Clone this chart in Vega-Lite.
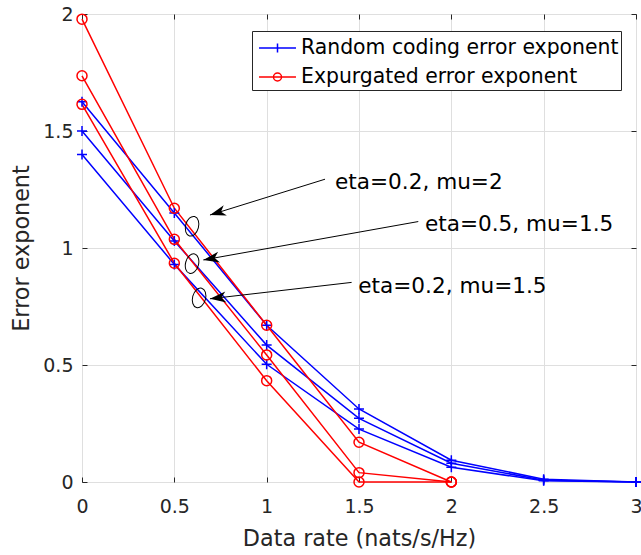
{
  "$schema": "https://vega.github.io/schema/vega-lite/v6.json",
  "width": 554,
  "height": 468,
  "autosize": "none",
  "padding": {"left": 82, "top": 14, "right": 5, "bottom": 73},
  "background": "white",
  "view": {"stroke": "#262626", "strokeWidth": 1},
  "config": {"font": "DejaVu Sans"},
  "datasets": {
    "series": [
      {"x": 0, "y": 1.625, "type": "Random coding error exponent", "group": "a"},
      {"x": 0.5, "y": 1.15, "type": "Random coding error exponent", "group": "a"},
      {"x": 1, "y": 0.67, "type": "Random coding error exponent", "group": "a"},
      {"x": 1.5, "y": 0.312, "type": "Random coding error exponent", "group": "a"},
      {"x": 2, "y": 0.093, "type": "Random coding error exponent", "group": "a"},
      {"x": 2.5, "y": 0.012, "type": "Random coding error exponent", "group": "a"},
      {"x": 3, "y": 0, "type": "Random coding error exponent", "group": "a"},
      {"x": 0, "y": 1.5, "type": "Random coding error exponent", "group": "b"},
      {"x": 0.5, "y": 1.03, "type": "Random coding error exponent", "group": "b"},
      {"x": 1, "y": 0.585, "type": "Random coding error exponent", "group": "b"},
      {"x": 1.5, "y": 0.272, "type": "Random coding error exponent", "group": "b"},
      {"x": 2, "y": 0.08, "type": "Random coding error exponent", "group": "b"},
      {"x": 2.5, "y": 0.008, "type": "Random coding error exponent", "group": "b"},
      {"x": 3, "y": 0, "type": "Random coding error exponent", "group": "b"},
      {"x": 0, "y": 1.4, "type": "Random coding error exponent", "group": "c"},
      {"x": 0.5, "y": 0.93, "type": "Random coding error exponent", "group": "c"},
      {"x": 1, "y": 0.503, "type": "Random coding error exponent", "group": "c"},
      {"x": 1.5, "y": 0.226, "type": "Random coding error exponent", "group": "c"},
      {"x": 2, "y": 0.063, "type": "Random coding error exponent", "group": "c"},
      {"x": 2.5, "y": 0.005, "type": "Random coding error exponent", "group": "c"},
      {"x": 3, "y": 0, "type": "Random coding error exponent", "group": "c"},
      {"x": 0, "y": 1.978, "type": "Expurgated error exponent", "group": "a"},
      {"x": 0.5, "y": 1.17, "type": "Expurgated error exponent", "group": "a"},
      {"x": 1, "y": 0.67, "type": "Expurgated error exponent", "group": "a"},
      {"x": 1.5, "y": 0.17, "type": "Expurgated error exponent", "group": "a"},
      {"x": 2, "y": 0, "type": "Expurgated error exponent", "group": "a"},
      {"x": 0, "y": 1.736, "type": "Expurgated error exponent", "group": "b"},
      {"x": 0.5, "y": 1.037, "type": "Expurgated error exponent", "group": "b"},
      {"x": 1, "y": 0.543, "type": "Expurgated error exponent", "group": "b"},
      {"x": 1.5, "y": 0.04, "type": "Expurgated error exponent", "group": "b"},
      {"x": 2, "y": 0, "type": "Expurgated error exponent", "group": "b"},
      {"x": 0, "y": 1.614, "type": "Expurgated error exponent", "group": "c"},
      {"x": 0.5, "y": 0.935, "type": "Expurgated error exponent", "group": "c"},
      {"x": 1, "y": 0.433, "type": "Expurgated error exponent", "group": "c"},
      {"x": 1.5, "y": 0, "type": "Expurgated error exponent", "group": "c"},
      {"x": 2, "y": 0, "type": "Expurgated error exponent", "group": "c"}
    ],
    "arrows": [
      {"label": "a1", "x1": 1.316, "y1": 1.294, "x2": 0.693, "y2": 1.141},
      {"label": "a2", "x1": 1.821, "y1": 1.113, "x2": 0.657, "y2": 0.949},
      {"label": "a3", "x1": 1.46, "y1": 0.853, "x2": 0.693, "y2": 0.783}
    ],
    "ellipses": [
      {"id": "e1", "x": 0.596, "y": 1.093},
      {"id": "e2", "x": 0.596, "y": 0.933},
      {"id": "e3", "x": 0.634, "y": 0.787}
    ],
    "notes": [
      {"label": "eta=0.2, mu=2", "x": 1.37, "y": 1.278},
      {"label": "eta=0.5, mu=1.5", "x": 1.857, "y": 1.098},
      {"label": "eta=0.2, mu=1.5", "x": 1.496, "y": 0.835}
    ]
  },
  "layer": [
    {
      "data": {"name": "series"},
      "mark": {"type": "line", "strokeWidth": 1.5, "clip": false},
      "encoding": {
        "x": {
          "field": "x", "type": "quantitative",
          "scale": {"domain": [0, 3], "nice": false, "zero": false},
          "axis": {
            "orient": "bottom", "values": [0, 0.5, 1, 1.5, 2, 2.5, 3], "format": "~g",
            "grid": true, "gridColor": "#dfdfdf", "gridWidth": 1, "ticks": false, "domain": false,
            "labelFontSize": 19, "labelColor": "#262626", "labelPadding": 15, "labelFlush": false,
            "title": "Data rate (nats/s/Hz)", "titleFontSize": 22.3, "titleFontWeight": "normal",
            "titleColor": "#262626", "titlePadding": 11
          }
        },
        "y": {
          "field": "y", "type": "quantitative",
          "scale": {"domain": [0, 2], "nice": false, "zero": false},
          "axis": {
            "orient": "left", "values": [0, 0.5, 1, 1.5, 2], "format": "~g",
            "grid": true, "gridColor": "#dfdfdf", "gridWidth": 1, "ticks": false, "domain": false,
            "labelFontSize": 19, "labelColor": "#262626", "labelPadding": 9, "labelFlush": false,
            "title": "Error exponent", "titleFontSize": 22.3, "titleFontWeight": "normal",
            "titleColor": "#262626", "titlePadding": 9
          }
        },
        "color": {
          "field": "type", "type": "nominal",
          "scale": {"domain": ["Random coding error exponent", "Expurgated error exponent"], "range": ["#0000ff", "#ff0000"]},
          "legend": {
            "orient": "none", "legendX": 170, "legendY": 17, "title": null, "direction": "vertical",
            "strokeColor": "#262626", "fillColor": "white", "padding": 2, "rowPadding": 3,
            "symbolSize": 784, "symbolOffset": 8.5, "labelOffset": 8.5, "labelFontSize": 20.4,
            "labelColor": "black", "labelLimit": 500, "symbolStrokeWidth": 1.5,
            "encode": {
              "symbols": {
                "update": {
                  "shape": {"signal": "datum.value === 'Random coding error exponent' ? 'M-1.32,0H1.32M0,-0.32V0.32' : 'M-1.32,0H1.32M-0.286,0A0.286,0.286 0 1,1 0.286,0A0.286,0.286 0 1,1 -0.286,0'"},
                  "fill": {"value": "transparent"},
                  "stroke": {"scale": "color", "field": "value"},
                  "strokeWidth": {"value": 1.5},
                  "size": {"value": 784}
                }
              }
            }
          }
        },
        "detail": {"field": "group"}
      }
    },
    {
      "data": {"name": "series"},
      "transform": [{"filter": "datum.type === 'Random coding error exponent'"}],
      "mark": {"type": "point", "shape": "M-1,0H1M0,-1V1", "filled": false, "strokeWidth": 1.5, "size": 100, "opacity": 1, "clip": false},
      "encoding": {
        "x": {"field": "x", "type": "quantitative", "scale": {"domain": [0, 3], "nice": false, "zero": false}, "axis": null},
        "y": {"field": "y", "type": "quantitative", "scale": {"domain": [0, 2], "nice": false, "zero": false}, "axis": null},
        "color": {"field": "type", "type": "nominal"}
      }
    },
    {
      "data": {"name": "series"},
      "transform": [{"filter": "datum.type === 'Expurgated error exponent'"}],
      "mark": {"type": "point", "shape": "circle", "filled": false, "strokeWidth": 1.5, "size": 100, "opacity": 1, "clip": false},
      "encoding": {
        "x": {"field": "x", "type": "quantitative", "scale": {"domain": [0, 3], "nice": false, "zero": false}, "axis": null},
        "y": {"field": "y", "type": "quantitative", "scale": {"domain": [0, 2], "nice": false, "zero": false}, "axis": null},
        "color": {"field": "type", "type": "nominal"}
      }
    },
    {
      "data": {"name": "arrows"},
      "mark": {"type": "rule", "color": "black", "strokeWidth": 1},
      "encoding": {
        "x": {"field": "x1", "type": "quantitative", "scale": {"domain": [0, 3], "nice": false, "zero": false}, "axis": null},
        "y": {"field": "y1", "type": "quantitative", "scale": {"domain": [0, 2], "nice": false, "zero": false}, "axis": null},
        "x2": {"field": "x2"},
        "y2": {"field": "y2"}
      }
    },
    {
      "data": {"name": "arrows"},
      "transform": [{"filter": "datum.label === 'a1'"}],
      "mark": {"type": "point", "shape": "M0,0L-1,-0.34L-0.72,0L-1,0.34Z", "size": 1024, "filled": true, "color": "black", "opacity": 1, "angle": 163.2},
      "encoding": {
        "x": {"field": "x2", "type": "quantitative", "scale": {"domain": [0, 3], "nice": false, "zero": false}, "axis": null},
        "y": {"field": "y2", "type": "quantitative", "scale": {"domain": [0, 2], "nice": false, "zero": false}, "axis": null}
      }
    },
    {
      "data": {"name": "arrows"},
      "transform": [{"filter": "datum.label === 'a2'"}],
      "mark": {"type": "point", "shape": "M0,0L-1,-0.34L-0.72,0L-1,0.34Z", "size": 1024, "filled": true, "color": "black", "opacity": 1, "angle": 169.9},
      "encoding": {
        "x": {"field": "x2", "type": "quantitative", "scale": {"domain": [0, 3], "nice": false, "zero": false}, "axis": null},
        "y": {"field": "y2", "type": "quantitative", "scale": {"domain": [0, 2], "nice": false, "zero": false}, "axis": null}
      }
    },
    {
      "data": {"name": "arrows"},
      "transform": [{"filter": "datum.label === 'a3'"}],
      "mark": {"type": "point", "shape": "M0,0L-1,-0.34L-0.72,0L-1,0.34Z", "size": 1024, "filled": true, "color": "black", "opacity": 1, "angle": 173.7},
      "encoding": {
        "x": {"field": "x2", "type": "quantitative", "scale": {"domain": [0, 3], "nice": false, "zero": false}, "axis": null},
        "y": {"field": "y2", "type": "quantitative", "scale": {"domain": [0, 2], "nice": false, "zero": false}, "axis": null}
      }
    },
    {
      "data": {"name": "ellipses"},
      "mark": {"type": "point", "shape": "M0,-1A0.65,1 0 1,1 0,1A0.65,1 0 1,1 0,-1Z", "size": 400, "filled": false, "color": "black", "strokeWidth": 1, "opacity": 1, "angle": 15},
      "encoding": {
        "x": {
          "field": "x", "type": "quantitative", "scale": {"domain": [0, 3], "nice": false, "zero": false},
          "axis": {"orient": "top", "values": [0, 0.5, 1, 1.5, 2, 2.5, 3], "labels": false, "grid": false, "domain": false, "ticks": true, "tickSize": -5, "tickColor": "#262626", "title": null}
        },
        "y": {
          "field": "y", "type": "quantitative", "scale": {"domain": [0, 2], "nice": false, "zero": false},
          "axis": {"orient": "right", "values": [0, 0.5, 1, 1.5, 2], "labels": false, "grid": false, "domain": false, "ticks": true, "tickSize": -5, "tickColor": "#262626", "title": null}
        }
      }
    },
    {
      "data": {"name": "notes"},
      "mark": {"type": "text", "align": "left", "baseline": "middle", "fontSize": 21.6, "color": "black", "font": "DejaVu Sans"},
      "encoding": {
        "x": {
          "field": "x", "type": "quantitative", "scale": {"domain": [0, 3], "nice": false, "zero": false},
          "axis": {"orient": "bottom", "values": [0, 0.5, 1, 1.5, 2, 2.5, 3], "labels": false, "grid": false, "domain": false, "ticks": true, "tickSize": -5, "tickColor": "#262626", "title": null}
        },
        "y": {
          "field": "y", "type": "quantitative", "scale": {"domain": [0, 2], "nice": false, "zero": false},
          "axis": {"orient": "left", "values": [0, 0.5, 1, 1.5, 2], "labels": false, "grid": false, "domain": false, "ticks": true, "tickSize": -5, "tickColor": "#262626", "title": null}
        },
        "text": {"field": "label"}
      }
    }
  ],
  "resolve": {"axis": {"x": "independent", "y": "independent"}}
}
